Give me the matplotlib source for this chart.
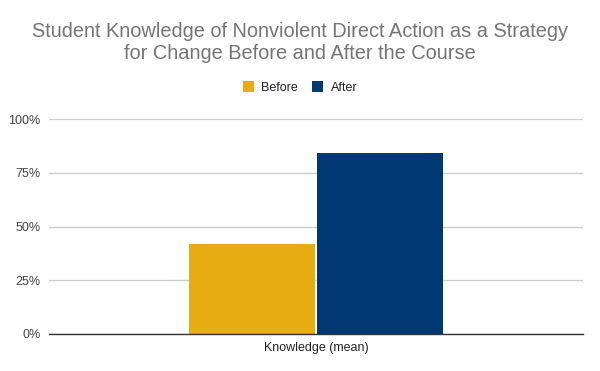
import matplotlib
matplotlib.use('Agg')
import matplotlib.pyplot as plt
from matplotlib.ticker import PercentFormatter

categories = ["Knowledge (mean)"]
series_names = ["Before", "After"]
before = [0.42]
after = [0.84]
y_ticks = [0, 0.25, 0.5, 0.75, 1.0]

plt.rcParams['font.family'] = ['Liberation Sans', 'DejaVu Sans']

fig = plt.figure(figsize=(6, 3.71), dpi=100)
ax = fig.add_axes([49 / 600, 37 / 371, 534 / 600, 215 / 371])

x = list(range(len(categories)))
w = 0.236
ax.bar([i - 0.119 for i in x], before, width=w, color='#E6AC12', label=series_names[0], zorder=3)
ax.bar([i + 0.119 for i in x], after, width=w, color='#003873', label=series_names[1], zorder=3)

ax.set_xlim(-0.5, len(categories) - 0.5)
ax.set_ylim(0, 1.0)
ax.set_yticks(y_ticks)
ax.yaxis.set_major_formatter(PercentFormatter(1.0, decimals=0))
ax.set_xticks(x)
ax.set_xticklabels(categories)

ax.grid(axis='y', color='#cccccc', linewidth=1, zorder=0)
for s in ['top', 'right', 'left']:
    ax.spines[s].set_visible(False)
ax.spines['bottom'].set_color('#333333')
ax.spines['bottom'].set_linewidth(1)
ax.spines['bottom'].set_zorder(4)
ax.tick_params(axis='both', length=0, labelsize=9, labelcolor='#444444')
ax.tick_params(axis='y', pad=6)
ax.tick_params(axis='x', pad=6, labelcolor='#222222')

fig.text(0.5, 1 - 31.5 / 371, "Student Knowledge of Nonviolent Direct Action as a Strategy",
         ha='center', va='center', fontsize=14.4, color='#757575')
fig.text(0.5, 1 - 53.5 / 371, "for Change Before and After the Course",
         ha='center', va='center', fontsize=14.4, color='#757575')

fig.legend(loc='center', bbox_to_anchor=(0.5, 1 - 87.5 / 371), ncol=2, frameon=False,
           fontsize=9, handlelength=0.9, handleheight=0.9, handletextpad=0.6,
           columnspacing=1.1, labelcolor='#222222')

fig.savefig('out.png', dpi=100)
